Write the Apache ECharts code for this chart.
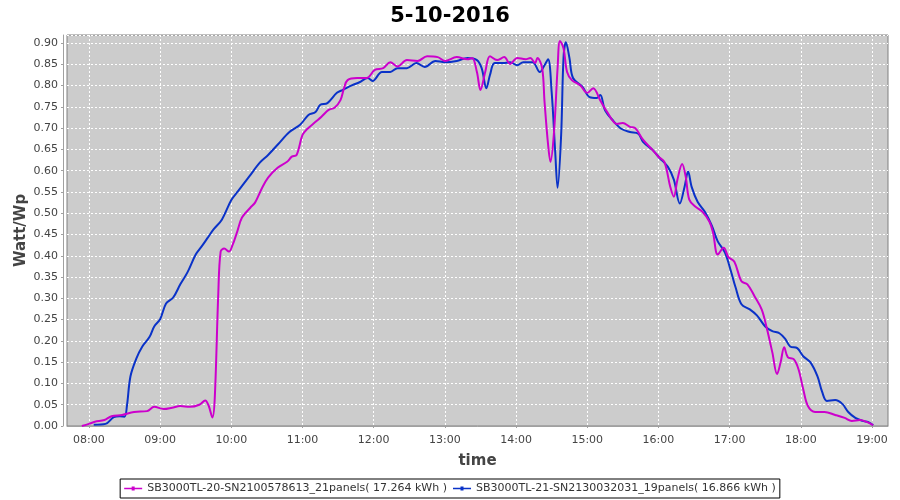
<!DOCTYPE html>
<html><head><meta charset="utf-8">
<script src="https://cdn.jsdelivr.net/npm/echarts@6/dist/echarts.min.js"></script>
<style>html,body{margin:0;padding:0;background:#fff}#c{width:900px;height:500px}</style>
</head><body><div id="c"></div>
<script>
const titleText = '5-10-2016';
const seriesNames = ['SB3000TL-20-SN2100578613_21panels( 17.264 kWh )', 'SB3000TL-21-SN2130032031_19panels( 16.866 kWh )'];
const yTicks = ['0.00','0.05','0.10','0.15','0.20','0.25','0.30','0.35','0.40','0.45','0.50','0.55','0.60','0.65','0.70','0.75','0.80','0.85','0.90'];
const xTicks = ['08:00','09:00','10:00','11:00','12:00','13:00','14:00','15:00','16:00','17:00','18:00','19:00'];

const magentaTimes = ['07:54','08:00','08:05','08:13','08:19','08:28','08:38','08:49','08:55','09:03','09:10','09:17','09:25','09:33','09:38','09:41','09:44','09:46','09:49','09:51','09:54','09:58','10:01','10:05','10:09','10:16','10:20','10:26','10:31','10:39','10:47','10:51','10:55','11:00','11:04','11:11','11:16','11:22','11:27','11:32','11:35','11:38','11:46','11:54','12:01','12:08','12:14','12:20','12:28','12:37','12:45','12:54','13:00','13:10','13:19','13:23','13:27','13:30','13:34','13:38','13:44','13:50','13:55','14:01','14:08','14:12','14:16','14:18','14:22','14:24','14:27','14:29','14:32','14:35','14:37','14:40','14:43','14:47','14:54','15:00','15:05','15:11','15:17','15:25','15:30','15:36','15:40','15:47','15:55','16:00','16:05','16:10','16:13','16:16','16:20','16:23','16:26','16:31','16:37','16:43','16:46','16:50','16:55','16:59','17:04','17:10','17:15','17:21','17:27','17:31','17:36','17:40','17:43','17:46','17:49','17:54','17:58','18:02','18:06','18:12','18:20','18:29','18:37','18:43','18:50','18:56','19:01'];
const magentaValues = [0.000,0.005,0.010,0.014,0.023,0.026,0.033,0.035,0.045,0.040,0.043,0.047,0.045,0.050,0.060,0.047,0.020,0.063,0.310,0.410,0.417,0.410,0.425,0.457,0.490,0.513,0.525,0.560,0.584,0.607,0.621,0.633,0.637,0.684,0.698,0.715,0.727,0.743,0.748,0.766,0.794,0.813,0.818,0.818,0.837,0.841,0.855,0.845,0.860,0.858,0.869,0.867,0.858,0.867,0.862,0.865,0.832,0.790,0.832,0.869,0.860,0.867,0.851,0.865,0.862,0.865,0.853,0.865,0.841,0.762,0.661,0.621,0.691,0.841,0.905,0.888,0.832,0.813,0.801,0.783,0.794,0.765,0.737,0.710,0.712,0.703,0.701,0.673,0.649,0.633,0.621,0.562,0.539,0.579,0.616,0.586,0.532,0.516,0.504,0.480,0.455,0.403,0.419,0.397,0.386,0.340,0.333,0.305,0.274,0.234,0.173,0.122,0.150,0.185,0.162,0.157,0.134,0.087,0.047,0.033,0.033,0.026,0.019,0.012,0.014,0.009,0.002];

const blueTimes = ['08:04','08:14','08:21','08:26','08:30','08:32','08:35','08:40','08:45','08:51','08:55','09:00','09:05','09:11','09:17','09:23','09:30','09:35','09:40','09:45','09:52','10:00','10:06','10:15','10:24','10:31','10:39','10:49','10:58','11:05','11:11','11:15','11:21','11:29','11:34','11:42','11:48','11:55','11:59','12:07','12:14','12:20','12:28','12:36','12:43','12:52','13:00','13:10','13:19','13:27','13:31','13:35','13:38','13:42','13:49','13:55','14:01','14:06','14:14','14:20','14:24','14:27','14:30','14:33','14:35','14:38','14:40','14:42','14:45','14:48','14:56','15:02','15:08','15:11','15:15','15:22','15:29','15:36','15:43','15:47','15:55','16:01','16:08','16:13','16:18','16:22','16:25','16:28','16:33','16:39','16:45','16:50','16:56','17:01','17:05','17:10','17:17','17:23','17:30','17:36','17:42','17:47','17:51','17:57','18:02','18:08','18:14','18:18','18:22','18:29','18:35','18:40','18:46','18:52','18:57','19:01'];
const blueValues = [0.003,0.005,0.021,0.023,0.022,0.047,0.117,0.159,0.187,0.209,0.234,0.251,0.288,0.302,0.333,0.361,0.403,0.422,0.442,0.462,0.485,0.531,0.553,0.586,0.619,0.637,0.661,0.691,0.708,0.731,0.738,0.755,0.759,0.783,0.790,0.801,0.808,0.818,0.811,0.832,0.832,0.841,0.841,0.853,0.844,0.858,0.855,0.858,0.865,0.860,0.841,0.794,0.825,0.853,0.853,0.855,0.848,0.855,0.855,0.832,0.848,0.862,0.785,0.644,0.560,0.684,0.865,0.902,0.865,0.818,0.797,0.773,0.771,0.778,0.742,0.717,0.698,0.691,0.687,0.668,0.649,0.630,0.609,0.579,0.523,0.562,0.598,0.562,0.527,0.504,0.471,0.434,0.408,0.365,0.326,0.286,0.274,0.260,0.234,0.223,0.218,0.204,0.187,0.183,0.164,0.150,0.117,0.080,0.059,0.061,0.052,0.033,0.019,0.012,0.009,0.002];

function toMin(s){ const p = s.split(':'); return (+p[0])*60 + (+p[1]); }
function pad(n){ return (n<10?'0':'')+n; }
const magentaData = magentaTimes.map((t,i)=>[toMin(t), magentaValues[i]]);
const blueData = blueTimes.map((t,i)=>[toMin(t), blueValues[i]]);
const xTickMins = xTicks.map(toMin);

const FONT = 'DejaVu Sans';
const legendIcon = 'path://M0,1.2h18v1.6H0z M7.5,0h3v4h-3z';
const chart = echarts.init(document.getElementById('c'), null, {renderer:'canvas'});
chart.setOption({
  animation:false,
  backgroundColor:'#ffffff',
  title:{ text:titleText, left:'center', top:1, textStyle:{fontFamily:FONT, fontSize:21, fontWeight:'bold', color:'#000'} },
  grid:{ left:67, top:35, width:821, height:391, show:true, backgroundColor:'#cccccc', borderColor:'#808080', borderWidth:1 },
  legend:{
    bottom:2, left:'center', data:seriesNames, orient:'horizontal', icon:legendIcon,
    borderColor:'#000', borderWidth:1, padding:[4,4], itemGap:6, itemWidth:18, itemHeight:4,
    textStyle:{fontFamily:FONT, fontSize:11, color:'#333'}
  },
  xAxis:{
    type:'value', min:461.5, max:1153.5, interval:60, offset:4,
    name:'time', nameLocation:'middle', nameGap:24, nameMoveOverlap:false,
    nameTextStyle:{fontFamily:FONT, fontSize:15, fontWeight:'bold', color:'#444'},
    axisLine:{show:true, lineStyle:{color:'#a0a0a0'}},
    axisTick:{show:true, length:2, lineStyle:{color:'#a0a0a0'}, customValues:xTickMins},
    axisLabel:{fontFamily:FONT, fontSize:11, color:'#444', margin:5, customValues:xTickMins,
      formatter:v=> (v%60===0 ? pad(Math.floor(v/60))+':'+pad(v%60) : '')},
    splitLine:{show:true, lineStyle:{color:'#ffffff', type:[2,2], width:1}}
  },
  yAxis:{
    type:'value', min:0, max:0.919, interval:0.05, offset:4,
    name:'Watt/Wp', nameLocation:'middle', nameGap:34, nameRotate:90, nameMoveOverlap:false,
    nameTextStyle:{fontFamily:FONT, fontSize:15, fontWeight:'bold', color:'#444'},
    axisLine:{show:true, lineStyle:{color:'#a0a0a0'}},
    axisTick:{show:true, length:2, lineStyle:{color:'#a0a0a0'}},
    axisLabel:{fontFamily:FONT, fontSize:11, color:'#444', margin:5, showMaxLabel:false,
      formatter:v=> v.toFixed(2)},
    splitLine:{show:true, lineStyle:{color:'#ffffff', type:[2,2], width:1}}
  },
  series:[
    { name:seriesNames[0], type:'line', data:magentaData, smooth:0.35, showSymbol:false, symbol:'circle', symbolSize:3, z:3,
      itemStyle:{color:'#cc00cc'}, lineStyle:{color:'#cc00cc', width:2} },
    { name:seriesNames[1], type:'line', data:blueData, smooth:0.35, showSymbol:false, symbol:'circle', symbolSize:3, z:2,
      itemStyle:{color:'#0a32c8'}, lineStyle:{color:'#0a32c8', width:2} }
  ]
});
</script></body></html>
